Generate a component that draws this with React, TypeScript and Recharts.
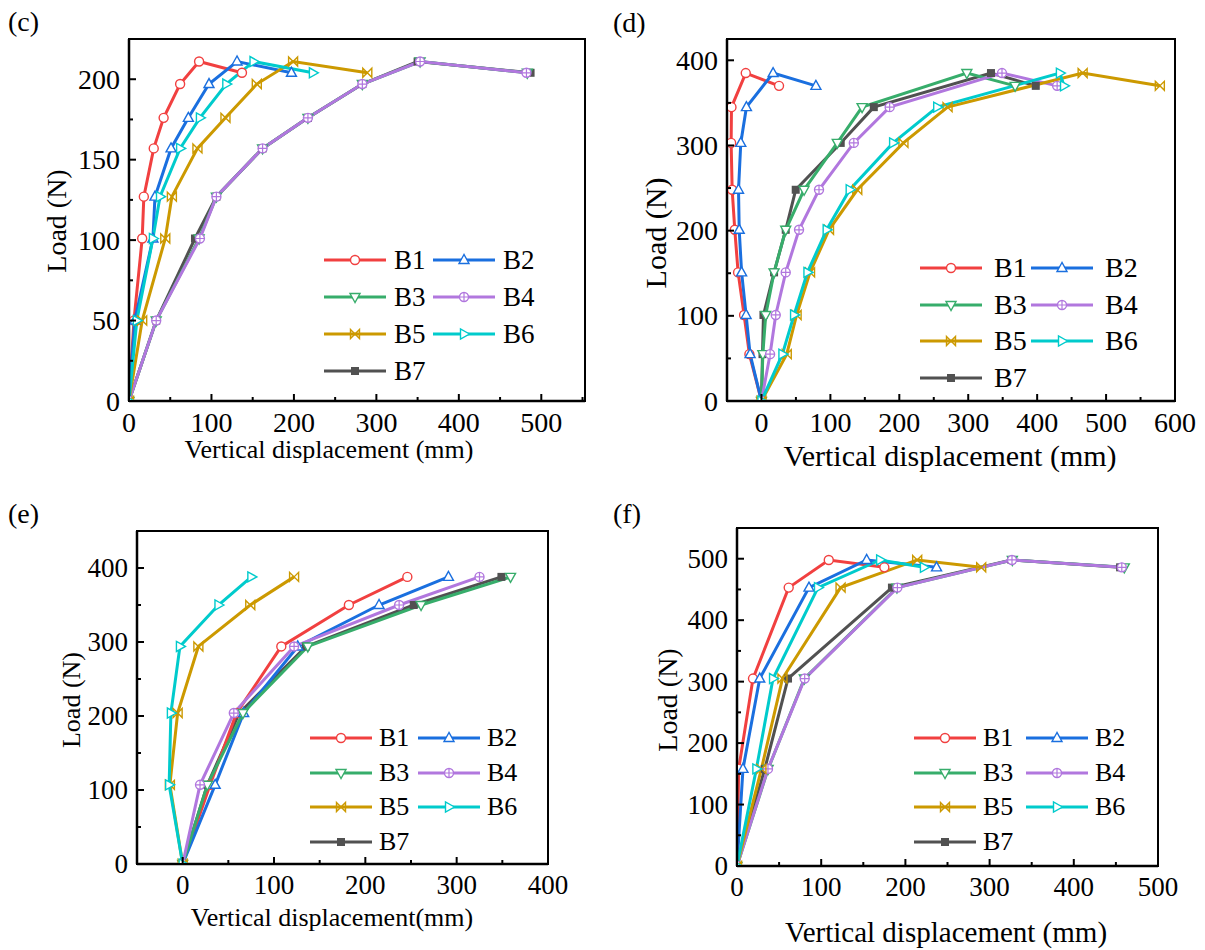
import React from "react";
import { LineChart, Line, XAxis, YAxis } from "recharts";

const series = ["B1", "B2", "B3", "B4", "B5", "B6", "B7"];
const colors = ["#F14040", "#1A6FDF", "#37AD6B", "#B177DE", "#CC9900", "#00CBCC", "#515151"];
const shapes = ["circle", "triUp", "triDown", "circlePlus", "bowtie", "triRight", "square"];
// B7 sits underneath the others in the original
const drawOrder = [6, 0, 1, 2, 3, 4, 5];

// (c)
const loadC = [0, 50, 101, 127, 157, 176, 197, 211, 204];
const dispC = [
  [0, 6, 16, 18, 30, 42, 62, 85, 137],
  [0, 7, 29, 31.5, 51, 72, 97, 131, 197],
  [0, 33, 85, 106, 162, 217, 283, 353, 483],
  [0, 33, 86, 106, 162, 217, 283, 353, 482],
  [0, 16, 44, 52, 83, 117, 155, 199, 289],
  [0, 9.5, 29, 37.6, 62, 86, 118, 151, 223],
  [0, 33, 80, 106, 162, 217, 283, 350, 487],
];
const xTicksC = [0, 50, 100, 150, 200, 250, 300, 350, 400, 450, 500, 550];
const yTicksC = [0, 25, 50, 75, 100, 125, 150, 175, 200, 225];

// (d)
const loadD = [0, 55, 101, 151, 201, 248, 303, 345, 385, 370];
const dispD = [
  [0, -17.5, -25.2, -33.9, -38.7, -42.5, -44, -43.5, -22.8, 25.5],
  [0, -16.5, -22.3, -28.8, -32.3, -33.3, -30, -21.8, 16.9, 79],
  [0, 2, 6.2, 18.3, 35.2, 61.8, 110, 146, 298, 368],
  [0, 12.5, 20.7, 35.2, 54.5, 83.5, 134, 186, 349, 429],
  [0, 36.7, 51, 70.5, 98, 139, 206, 270, 466, 578],
  [0, 30.4, 47.3, 66.7, 94.6, 128, 191, 255, 433, 439],
  [0, 1.5, 2.9, 18.3, 35.2, 49.7, 115, 163, 333, 398],
];
const xTicksD = [0, 50, 100, 150, 200, 250, 300, 350, 400, 450, 500, 550, 600];
const yTicksD = [0, 50, 100, 150, 200, 250, 300, 350, 400];

// (e)
const loadE = [0, 107, 204, 294, 350, 388];
const dispE = [
  [0, 30, 59, 108, 182, 246],
  [0, 35.6, 66.8, 126, 215, 291],
  [0, 27, 66, 137, 261, 359],
  [0, 19, 56, 122, 237, 325],
  [0, -14, -5.5, 17.2, 74, 122],
  [0, -14.8, -12.9, -3, 39.2, 75.2],
  [0, 27, 62, 135, 253, 349],
];
const xTicksE = [0, 50, 100, 150, 200, 250, 300, 350, 400];
const yTicksE = [0, 50, 100, 150, 200, 250, 300, 350, 400, 450];

// (f)
const loadF = [0, 158, 305, 453, 498, 486];
const dispF = [
  [0, 2, 19, 61.4, 109, 175],
  [0, 7.1, 27, 85.5, 154, 237],
  [0, 37, 80, 190, 327, 460],
  [0, 36.8, 80.4, 190.5, 326.6, 457],
  [0, 29, 54, 123, 214, 290],
  [0, 23, 42.8, 96.2, 170, 222],
  [0, 33, 60.6, 184, 326, 455],
];
const xTicksF = [0, 50, 100, 150, 200, 250, 300, 350, 400, 450, 500];
const yTicksF = [0, 50, 100, 150, 200, 250, 300, 350, 400, 450, 500, 550];

const FONT = '"Liberation Serif", "Times New Roman", Times, serif';
const AXW = 130; // y-axis area width
const TOP = 40;
const RIGHT = 40;

const panels = [
  {
    tag: "(c)", tagPos: [8, 22],
    box: { x: 129, y: 39, w: 456, h: 362 },
    load: loadC, disp: dispC, xTicks: xTicksC, yTicks: yTicksC,
    xDomain: [0, 553], yDomain: [0, 225], xMajor: 100, yMajor: 50,
    tickFont: 28, xTitle: "Vertical displacement (mm)", xTitlePos: [329, 450], xTitleFont: 26,
    yTitlePos: [57, 221], yTitleFont: 28,
    legend: { x: 324, y: 260, gap: 37, col: 109, textGap: 8, font: 27 },
  },
  {
    tag: "(d)", tagPos: [613, 23],
    box: { x: 727, y: 39, w: 448, h: 362 },
    load: loadD, disp: dispD, xTicks: xTicksD, yTicks: yTicksD,
    xDomain: [-50, 600], yDomain: [0, 425], xMajor: 100, yMajor: 100,
    tickFont: 28, xTitle: "Vertical displacement (mm)", xTitlePos: [950, 456], xTitleFont: 30,
    yTitlePos: [656, 233], yTitleFont: 30,
    legend: { x: 920, y: 268, gap: 36.7, col: 111, textGap: 12, font: 28 },
  },
  {
    tag: "(e)", tagPos: [8, 514],
    box: { x: 137, y: 531, w: 411, h: 333 },
    load: loadE, disp: dispE, xTicks: xTicksE, yTicks: yTicksE,
    xDomain: [-50, 400], yDomain: [0, 450], xMajor: 100, yMajor: 100,
    tickFont: 27, xTitle: "Vertical displacement(mm)", xTitlePos: [332, 918], xTitleFont: 26,
    yTitlePos: [72, 700], yTitleFont: 26,
    legend: { x: 310, y: 738, gap: 34.7, col: 108, textGap: 7, font: 26 },
  },
  {
    tag: "(f)", tagPos: [613, 514],
    box: { x: 737, y: 528, w: 421, h: 338 },
    load: loadF, disp: dispF, xTicks: xTicksF, yTicks: yTicksF,
    xDomain: [0, 500], yDomain: [0, 550], xMajor: 100, yMajor: 100,
    tickFont: 27, xTitle: "Vertical displacement (mm)", xTitlePos: [946, 932], xTitleFont: 29,
    yTitlePos: [668, 700], yTitleFont: 28,
    legend: { x: 914, y: 738, gap: 34.7, col: 112, textGap: 7, font: 26 },
  },
];

function Marker({ cx, cy, shape, color }: any) {
  if (cx == null || cy == null || isNaN(cx) || isNaN(cy)) return null;
  const s = 4.5;
  const common = { stroke: color, strokeWidth: 1.4, fill: "#fff" };
  switch (shape) {
    case "circle":
      return <circle cx={cx} cy={cy} r={s} {...common} />;
    case "triUp":
      return <polygon points={`${cx},${cy - s - 1} ${cx - s - 0.5},${cy + s - 1} ${cx + s + 0.5},${cy + s - 1}`} {...common} />;
    case "triDown":
      return <polygon points={`${cx},${cy + s + 1} ${cx - s - 0.5},${cy - s + 1} ${cx + s + 0.5},${cy - s + 1}`} {...common} />;
    case "triRight":
      return <polygon points={`${cx + s + 1},${cy} ${cx - s + 1},${cy - s - 0.5} ${cx - s + 1},${cy + s + 0.5}`} {...common} />;
    case "circlePlus":
      return (
        <g>
          <circle cx={cx} cy={cy} r={s} {...common} />
          <path d={`M${cx - s},${cy} L${cx + s},${cy} M${cx},${cy - s} L${cx},${cy + s}`} stroke={color} strokeWidth={1.2} />
        </g>
      );
    case "bowtie":
      return (
        <path
          d={`M${cx - s},${cy - s} L${cx + s},${cy + s} L${cx + s},${cy - s} L${cx - s},${cy + s} Z`}
          stroke={color}
          strokeWidth={1.4}
          fill="none"
        />
      );
    default:
      return <rect x={cx - 4} y={cy - 4} width={8} height={8} fill={color} />;
  }
}

function XTick({ x, payload, base, major, font }: any) {
  const v = payload.value;
  const isMajor = v % major === 0;
  return (
    <g>
      <line x1={x} x2={x} y1={base} y2={base - (isMajor ? 7 : 4)} stroke="#000" strokeWidth={2} />
      {isMajor && (
        <text x={x} y={base + 11 + font * 0.7} textAnchor="middle" fontFamily={FONT} fontSize={font} fill="#000">
          {v}
        </text>
      )}
    </g>
  );
}

function YTick({ y, payload, major, font }: any) {
  const v = payload.value;
  const isMajor = v % major === 0;
  return (
    <g>
      <line x1={AXW} x2={AXW + (isMajor ? 7 : 4)} y1={y} y2={y} stroke="#000" strokeWidth={2} />
      {isMajor && (
        <text x={AXW - 9} y={y + font * 0.34} textAnchor="end" fontFamily={FONT} fontSize={font} fill="#000">
          {v}
        </text>
      )}
    </g>
  );
}

function Panel({ p }: any) {
  const { box } = p;
  const W = AXW + box.w + RIGHT;
  const H = TOP + box.h + 70;
  const base = TOP + box.h;
  return (
    <div style={{ position: "absolute", left: box.x - AXW, top: box.y - TOP }}>
      <LineChart width={W} height={H} margin={{ top: TOP, right: RIGHT, bottom: 0, left: 0 }}>
        <XAxis
          type="number"
          dataKey="x"
          domain={p.xDomain}
          ticks={p.xTicks}
          interval={0}
          allowDataOverflow
          height={70}
          tickLine={false}
          axisLine={{ stroke: "#000", strokeWidth: 2.5 }}
          tick={(t: any) => <XTick {...t} base={base} major={p.xMajor} font={p.tickFont} />}
        />
        <YAxis
          type="number"
          dataKey="y"
          domain={p.yDomain}
          ticks={p.yTicks}
          interval={0}
          allowDataOverflow
          width={AXW}
          tickLine={false}
          axisLine={{ stroke: "#000", strokeWidth: 2.5 }}
          tick={(t: any) => <YTick {...t} major={p.yMajor} font={p.tickFont} />}
        />
        {drawOrder.map((i) => (
          <Line
            key={series[i]}
            name={series[i]}
            data={p.load.map((y: number, k: number) => ({ x: p.disp[i][k], y }))}
            dataKey="y"
            stroke={colors[i]}
            strokeWidth={3}
            dot={(d: any) => (
              <Marker key={`${series[i]}-${d.index}`} cx={d.cx} cy={d.cy} shape={shapes[i]} color={colors[i]} />
            )}
            activeDot={false}
            isAnimationActive={false}
          />
        ))}
      </LineChart>
      <div
        style={{
          position: "absolute",
          left: AXW - 1.25,
          top: TOP - 1.25,
          width: box.w + 2.5,
          height: box.h + 2.5,
          border: "2.5px solid #000",
          boxSizing: "border-box",
          pointerEvents: "none",
        }}
      />
    </div>
  );
}

function SeriesLegend({ cfg }: any) {
  return (
    <>
      {series.map((name, i) => {
        const row = Math.floor(i / 2);
        const col = i % 2;
        const lx = cfg.x + col * cfg.col;
        const ly = cfg.y + row * cfg.gap;
        return (
          <div key={name} style={{ position: "absolute", left: lx, top: ly - 12, height: 24, display: "flex", alignItems: "center" }}>
            <svg width={62} height={24}>
              <line x1={0} x2={62} y1={12} y2={12} stroke={colors[i]} strokeWidth={3} />
              <Marker cx={31} cy={12} shape={shapes[i]} color={colors[i]} />
            </svg>
            <span style={{ marginLeft: cfg.textGap, fontFamily: FONT, fontSize: cfg.font, lineHeight: 1, color: "#000" }}>{name}</span>
          </div>
        );
      })}
    </>
  );
}

function Text({ pos, font, children, rotate }: any) {
  return (
    <div
      style={{
        position: "absolute",
        left: pos[0],
        top: pos[1],
        transform: `translate(-50%, -50%)${rotate ? " rotate(-90deg)" : ""}`,
        fontFamily: FONT,
        fontSize: font,
        lineHeight: 1,
        whiteSpace: "nowrap",
        color: "#000",
      }}
    >
      {children}
    </div>
  );
}

export default function App() {
  return (
    <div style={{ position: "absolute", left: 0, top: 0, width: 1205, height: 950, background: "#fff", overflow: "hidden" }}>
      {panels.map((p) => (
        <React.Fragment key={p.tag}>
          <Panel p={p} />
          <SeriesLegend cfg={p.legend} />
          <div style={{ position: "absolute", left: p.tagPos[0], top: p.tagPos[1] - 14, fontFamily: FONT, fontSize: 28, lineHeight: 1 }}>
            {p.tag}
          </div>
          <Text pos={p.xTitlePos} font={p.xTitleFont}>{p.xTitle}</Text>
          <Text pos={p.yTitlePos} font={p.yTitleFont} rotate>Load (N)</Text>
        </React.Fragment>
      ))}
    </div>
  );
}
